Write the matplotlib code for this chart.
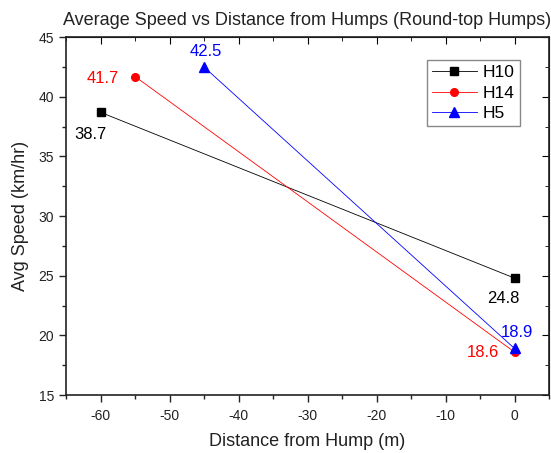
import matplotlib
matplotlib.use("Agg")
import matplotlib.pyplot as plt
from matplotlib.ticker import MultipleLocator

plt.rcParams['font.family'] = ['Liberation Sans', 'DejaVu Sans']
plt.rcParams['axes.unicode_minus'] = False

x_h10 = [-60, 0]
y_h10 = [38.7, 24.8]
x_h14 = [-55, 0]
y_h14 = [41.7, 18.6]
x_h5 = [-45, 0]
y_h5 = [42.5, 18.9]

fig = plt.figure(figsize=(5.51, 4.53), dpi=100)
ax = fig.add_axes([0.1198, 0.128, 0.8766, 0.79])

ax.plot(x_h10, y_h10, color='black', lw=0.6, marker='s', ms=5.3, label='H10')
ax.plot(x_h14, y_h14, color='red', lw=0.6, marker='o', ms=5.5, label='H14')
ax.plot(x_h5, y_h5, color='blue', lw=0.6, marker='^', ms=6.5, label='H5')

fs = 12
ax.annotate(f"{y_h10[0]}", (x_h10[0], y_h10[0]), xytext=(-7, -16), textcoords='offset points', ha='center', va='center', color='black', fontsize=fs)
ax.annotate(f"{y_h10[1]}", (x_h10[1], y_h10[1]), xytext=(-8, -15), textcoords='offset points', ha='center', va='center', color='black', fontsize=fs)
ax.annotate(f"{y_h14[0]}", (x_h14[0], y_h14[0]), xytext=(-11.5, -1.5), textcoords='offset points', ha='right', va='center', color='red', fontsize=fs)
ax.annotate(f"{y_h14[1]}", (x_h14[1], y_h14[1]), xytext=(-11, 0), textcoords='offset points', ha='right', va='center', color='red', fontsize=fs)
ax.annotate(f"{y_h5[0]}", (x_h5[0], y_h5[0]), xytext=(1, 11), textcoords='offset points', ha='center', va='center', color='blue', fontsize=fs)
ax.annotate(f"{y_h5[1]}", (x_h5[1], y_h5[1]), xytext=(1.7, 11.5), textcoords='offset points', ha='center', va='center', color='blue', fontsize=fs)

ax.set_xlim(-65, 5)
ax.set_ylim(15, 45)
ax.xaxis.set_major_locator(MultipleLocator(10))
ax.xaxis.set_minor_locator(MultipleLocator(5))
ax.yaxis.set_major_locator(MultipleLocator(5))
ax.yaxis.set_minor_locator(MultipleLocator(2.5))
ax.tick_params(which='both', direction='out', labelsize=10, width=1, top=False, right=False, colors='#222222')
ax.tick_params(which='major', length=5)
ax.tick_params(which='minor', length=3)
ax.tick_params(axis='x', pad=5)
# mirrored ticks on top/right
ax2 = ax.secondary_xaxis('top')
ax2.xaxis.set_major_locator(MultipleLocator(10))
ax2.xaxis.set_minor_locator(MultipleLocator(5))
ax2.tick_params(which='both', direction='in', labeltop=False)
ax2.tick_params(which='major', length=5)
ax2.tick_params(which='minor', length=3)
ax3 = ax.secondary_yaxis('right')
ax3.yaxis.set_major_locator(MultipleLocator(5))
ax3.yaxis.set_minor_locator(MultipleLocator(2.5))
ax3.tick_params(which='both', direction='in', labelright=False)
ax3.tick_params(which='major', length=5)
ax3.tick_params(which='minor', length=3)

for s in ax.spines.values():
    s.set_linewidth(1.2)
    s.set_color('#222222')

ax.set_xlabel('Distance from Hump (m)', fontsize=13, labelpad=7, color='#222222')
ax.set_ylabel('Avg Speed (km/hr)', fontsize=13, labelpad=7, color='#222222')
ax.set_title('Average Speed vs Distance from Humps (Round-top Humps)', fontsize=13, pad=9, color='#222222')

leg = ax.legend(loc='upper right', bbox_to_anchor=(0.94, 0.936), borderaxespad=0, fontsize=12.5, fancybox=False,
                edgecolor='#888888', framealpha=1, handlelength=2.6, borderpad=0.3,
                labelspacing=0.3, handletextpad=0.35)
leg.get_frame().set_linewidth(1)

fig.savefig('out.png', dpi=100)
